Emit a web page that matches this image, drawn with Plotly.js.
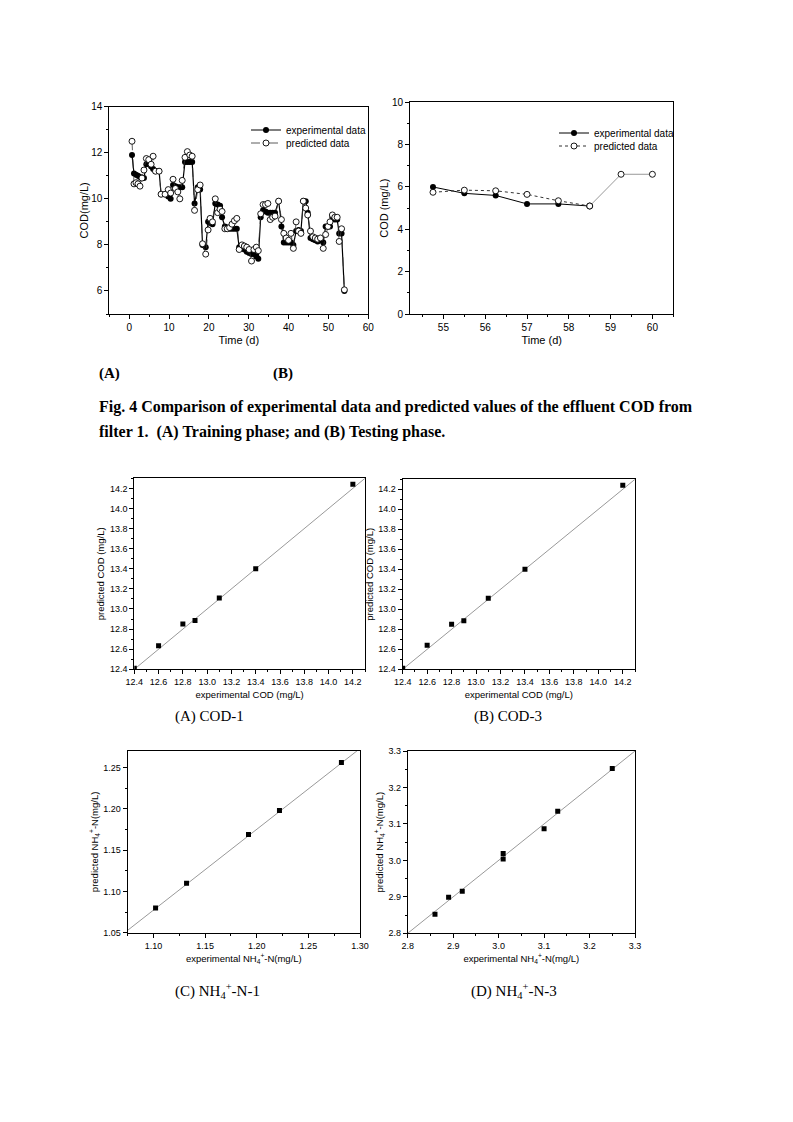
<!DOCTYPE html>
<html>
<head>
<meta charset="utf-8">
<script src="https://cdn.plot.ly/plotly-3.0.1.min.js"></script>
<style>
html,body{margin:0;padding:0;background:#fff;}
#chart{width:793px;height:1122px;}
</style>
</head>
<body>
<div id="chart"></div>
<script>
// ---------- DATA ----------
// (A) Training phase
const trainDays = [0.7,1.2,1.7,2.2,2.7,3.2,3.7,4.3,4.9,5.5,
  6.0,6.6,7.5,8.0,9.0,9.8,10.4,11.0,11.6,12.2,
  12.7,13.3,14.0,14.6,15.2,15.8,16.4,17.2,17.8,18.4,
  19.2,19.8,20.3,20.9,21.6,22.2,22.8,23.3,24.0,24.6,
  25.2,25.8,26.4,27.0,27.6,28.3,28.9,29.5,30.1,30.7,
  31.3,31.9,32.4,33.0,33.6,34.2,34.8,35.4,36.0,36.6,
  37.5,38.2,38.8,39.4,40.0,40.6,41.2,41.9,42.5,43.1,
  43.7,44.3,44.8,45.5,46.1,46.7,47.3,48.0,48.7,49.3,
  49.9,50.4,51.0,51.6,52.2,52.7,53.3,54.0];
const trainExp = [11.9,11.1,11.05,11.0,10.95,10.9,10.9,11.5,11.5,11.4,
  11.3,11.2,11.2,10.2,10.2,10.1,10.0,10.6,10.55,10.5,
  10.5,10.5,11.6,11.6,11.6,11.6,9.8,10.5,10.4,8.0,
  7.9,9.0,8.95,8.9,9.8,9.75,9.7,9.2,8.8,8.75,
  8.7,8.7,8.7,8.7,7.9,7.85,7.8,7.7,7.65,7.6,
  7.6,7.5,7.4,9.2,9.5,9.45,9.4,9.4,9.4,9.4,
  9.9,8.8,8.1,8.1,8.1,8.1,8.0,8.6,8.65,8.6,
  9.9,9.9,9.4,8.3,8.25,8.2,8.15,8.2,8.1,8.8,
  8.8,8.8,9.2,9.1,9.1,8.5,8.5,6.0];
const trainPred = [12.5,10.65,10.7,10.65,10.55,10.9,11.25,11.75,11.7,11.5,
  11.85,11.2,11.2,10.2,10.2,10.4,10.25,10.85,10.45,10.3,
  10.0,10.8,11.8,12.05,11.9,11.85,9.5,10.4,10.6,8.05,
  7.6,8.65,9.15,9.0,10.0,9.4,9.55,9.45,8.7,8.7,
  8.75,8.9,9.05,9.15,7.8,8.0,7.95,7.9,7.8,7.3,
  7.8,7.9,7.75,9.35,9.75,9.75,9.8,9.1,9.2,9.25,
  9.9,9.1,8.5,8.3,8.2,8.5,7.85,9.0,8.6,8.5,
  9.9,9.6,9.3,8.6,8.35,8.3,8.25,8.3,7.85,8.45,
  8.8,9.0,9.3,9.2,9.2,8.15,8.7,6.05];

// (B) Testing phase
const testDaysExp = [54.75,55.5,56.25,57,57.75,58.5];
const testExp = [6.0,5.7,5.6,5.2,5.2,5.1];
const testDaysPred = [54.75,55.5,56.25,57,57.75,58.5,59.25,60];
const testPred = [5.75,5.85,5.82,5.65,5.35,5.1,6.6,6.6];

// COD-1 and COD-3 scatter
const cod1Exp = [12.4,12.6,12.8,12.9,13.1,13.4,14.2];
const cod1Pred = [12.41,12.635,12.85,12.885,13.11,13.4,14.24];
const cod3Exp = [12.4,12.6,12.8,12.9,13.1,13.4,14.2];
const cod3Pred = [12.41,12.64,12.85,12.885,13.11,13.4,14.24];
const codLine = [12.4,14.3];

// NH4+-N-1 and NH4+-N-3 scatter
const nh1Exp = [1.102,1.132,1.192,1.222,1.282];
const nh1Pred = [1.080,1.110,1.169,1.198,1.256];
const nh1LineX = [1.072,1.30];
const nh1LineY = [1.05,1.273];
const nh3Exp = [2.86,2.89,2.92,3.01,3.01,3.10,3.13,3.25];
const nh3Pred = [2.852,2.899,2.915,3.019,3.004,3.087,3.135,3.252];
const nh3Line = [2.8,3.3];

// ---------- LAYOUT HELPERS ----------
const W = 793, H = 1122;
const SANS = 'Liberation Sans, Arial, sans-serif';
const SERIF = 'Liberation Serif, Times New Roman, serif';
function xd(a,b){return [a/W,b/W];}
function yd(top,bottom){return [1-bottom/H,1-top/H];}

function axis(opts){
  const a = {
    showline:true, linecolor:'#000', linewidth:1, mirror:true,
    ticks:'outside', ticklen:4, tickwidth:1, tickcolor:'#000',
    showgrid:false, zeroline:false, automargin:false,
    tickfont:{family:SANS,size:opts.tfs||10,color:'#000'},
    minor:{ticks:'outside', ticklen:2, tickcolor:'#000', dtick:opts.minor, showgrid:false},
    fixedrange:true
  };
  return Object.assign(a, opts.extra);
}

const expMarker = {symbol:'circle',size:6,color:'#000'};
const predMarker = {symbol:'circle',size:6,color:'#fff',line:{color:'#000',width:0.9}};

const traces = [];
// (A)
traces.push({x:trainDays,y:trainExp,type:'scatter',mode:'lines+markers',name:'experimental data',
  xaxis:'x',yaxis:'y',legend:'legend',
  line:{color:'#000',width:1.2},marker:expMarker});
traces.push({x:trainDays,y:trainPred,type:'scatter',mode:'lines+markers',name:'predicted data',
  xaxis:'x',yaxis:'y',legend:'legend3',
  line:{color:'#333',width:0.8,dash:'dash'},marker:predMarker});
// (B)
const nSplit = testDaysExp.length;
traces.push({x:testDaysExp,y:testExp,type:'scatter',mode:'lines+markers',name:'experimental data',
  xaxis:'x2',yaxis:'y2',legend:'legend2',
  line:{color:'#000',width:1},marker:expMarker});
traces.push({x:testDaysPred.slice(0,nSplit),y:testPred.slice(0,nSplit),type:'scatter',mode:'lines+markers',name:'predicted data',
  xaxis:'x2',yaxis:'y2',legend:'legend4',
  line:{color:'#333',width:1,dash:'dot'},marker:predMarker});
traces.push({x:testDaysPred.slice(nSplit-1),y:testPred.slice(nSplit-1),type:'scatter',mode:'lines+markers',showlegend:false,
  xaxis:'x2',yaxis:'y2',
  line:{color:'#999',width:1},marker:predMarker});
// COD-1
traces.push({x:codLine,y:codLine,type:'scatter',mode:'lines',showlegend:false,xaxis:'x3',yaxis:'y3',line:{color:'#999',width:1}});
traces.push({x:cod1Exp,y:cod1Pred,type:'scatter',mode:'markers',showlegend:false,xaxis:'x3',yaxis:'y3',marker:{symbol:'square',size:5,color:'#000'}});
// COD-3
traces.push({x:codLine,y:codLine,type:'scatter',mode:'lines',showlegend:false,xaxis:'x4',yaxis:'y4',line:{color:'#999',width:1}});
traces.push({x:cod3Exp,y:cod3Pred,type:'scatter',mode:'markers',showlegend:false,xaxis:'x4',yaxis:'y4',marker:{symbol:'square',size:5,color:'#000'}});
// NH-1
traces.push({x:nh1LineX,y:nh1LineY,type:'scatter',mode:'lines',showlegend:false,xaxis:'x5',yaxis:'y5',line:{color:'#999',width:1}});
traces.push({x:nh1Exp,y:nh1Pred,type:'scatter',mode:'markers',showlegend:false,xaxis:'x5',yaxis:'y5',marker:{symbol:'square',size:5,color:'#000'}});
// NH-3
traces.push({x:nh3Line,y:nh3Line,type:'scatter',mode:'lines',showlegend:false,xaxis:'x6',yaxis:'y6',line:{color:'#999',width:1}});
traces.push({x:nh3Exp,y:nh3Pred,type:'scatter',mode:'markers',showlegend:false,xaxis:'x6',yaxis:'y6',marker:{symbol:'square',size:5,color:'#000'}});

const tf = (t,s,st)=>({text:t,font:{family:SANS,size:s,color:'#000'},standoff:st});
function leg(px,py){
  return {x:px/W,y:1-py/H,xanchor:'left',yanchor:'middle',bgcolor:'rgba(0,0,0,0)',borderwidth:0,
    font:{family:SANS,size:10,color:'#000'},itemwidth:30,tracegroupgap:0};
}

const layout = {
  width:W,height:H,margin:{l:0,r:0,t:0,b:0},
  paper_bgcolor:'#fff',plot_bgcolor:'#fff',
  font:{family:SANS,color:'#000'},
  // (A)
  xaxis: axis({minor:5,extra:{domain:xd(109.3,368.3),anchor:'y',range:[-5,60.01],dtick:10,tick0:0,title:tf('Time (d)',11,4)}}),
  yaxis: axis({minor:1,extra:{domain:yd(106.7,314),anchor:'x',range:[5,14],dtick:2,tick0:0,title:tf('COD(mg/L)',11,0)}}),
  // (B)
  xaxis2: axis({minor:0.5,extra:{domain:xd(410,673.3),anchor:'y2',range:[54.2,60.5],dtick:1,tick0:0,title:tf('Time (d)',11,4)}}),
  yaxis2: axis({minor:1,extra:{domain:yd(102.3,314),anchor:'x2',range:[0,10],dtick:2,tick0:0,title:tf('COD (mg/L)',11,1)}}),
  // COD-1
  xaxis3: axis({minor:0.1,tfs:9,extra:{domain:xd(134.3,365),anchor:'y3',range:[12.4,14.3],dtick:0.2,tick0:12.4,tickformat:'.1f',title:tf('experimental COD (mg/L)',9.5,5)}}),
  yaxis3: axis({minor:0.1,tfs:9,extra:{domain:yd(478.3,669.3),anchor:'x3',range:[12.4,14.3],dtick:0.2,tick0:12.4,tickformat:'.1f',title:tf('predicted COD (mg/L)',9.5,3)}}),
  // COD-3
  xaxis4: axis({minor:0.1,tfs:9,extra:{domain:xd(402.7,635),anchor:'y4',range:[12.4,14.3],dtick:0.2,tick0:12.4,tickformat:'.1f',title:tf('experimental COD (mg/L)',9.5,5)}}),
  yaxis4: axis({minor:0.1,tfs:9,extra:{domain:yd(479.3,669.3),anchor:'x4',range:[12.4,14.3],dtick:0.2,tick0:12.4,tickformat:'.1f',title:tf('predicted COD (mg/L)',9.5,3)}}),
  // NH-1
  xaxis5: axis({minor:0.025,tfs:9,extra:{domain:xd(127.7,360),anchor:'y5',range:[1.075,1.30],dtick:0.05,tick0:1.0,tickformat:'.2f',title:tf('experimental NH<sub>4</sub><sup>+</sup>-N(mg/L)',9.5,5)}}),
  yaxis5: axis({minor:0.025,tfs:9,extra:{domain:yd(751,932.7),anchor:'x5',range:[1.05,1.27],dtick:0.05,tick0:1.0,tickformat:'.2f',title:tf('predicted NH<sub>4</sub><sup>+</sup>-N(mg/L)',9.5,3)}}),
  // NH-3
  xaxis6: axis({minor:0.05,tfs:9,extra:{domain:xd(407.7,635),anchor:'y6',range:[2.8,3.3],dtick:0.1,tick0:2.8,tickformat:'.1f',title:tf('experimental NH<sub>4</sub><sup>+</sup>-N(mg/L)',9.5,5)}}),
  yaxis6: axis({minor:0.05,tfs:9,extra:{domain:yd(751,933.3),anchor:'x6',range:[2.8,3.3],dtick:0.1,tick0:2.8,tickformat:'.1f',title:tf('predicted NH<sub>4</sub><sup>+</sup>-N(mg/L)',9.5,3)}}),
  showlegend:true,
  legend: leg(246,130),
  legend3: leg(246,143),
  legend2: leg(554,133),
  legend4: leg(554,146),
  annotations:[
    {text:'<b>(A)</b>',x:97/W,y:1-373/H,xref:'paper',yref:'paper',xanchor:'left',yanchor:'middle',showarrow:false,font:{family:SERIF,size:15,color:'#000'}},
    {text:'<b>(B)</b>',x:271/W,y:1-373/H,xref:'paper',yref:'paper',xanchor:'left',yanchor:'middle',showarrow:false,font:{family:SERIF,size:15,color:'#000'}},
    {text:'<b>Fig. 4 Comparison of experimental data and predicted values of the effluent COD from</b>',x:97/W,y:1-407/H,xref:'paper',yref:'paper',xanchor:'left',yanchor:'middle',showarrow:false,font:{family:SERIF,size:16,color:'#000'}},
    {text:'<b>filter 1.\u00a0\u00a0(A) Training phase; and (B) Testing phase.</b>',x:97/W,y:1-432/H,xref:'paper',yref:'paper',xanchor:'left',yanchor:'middle',showarrow:false,font:{family:SERIF,size:16,color:'#000'}},
    {text:'(A) COD-1',x:210/W,y:1-716/H,xref:'paper',yref:'paper',xanchor:'center',yanchor:'middle',showarrow:false,font:{family:SERIF,size:15,color:'#000'}},
    {text:'(B) COD-3',x:508/W,y:1-716/H,xref:'paper',yref:'paper',xanchor:'center',yanchor:'middle',showarrow:false,font:{family:SERIF,size:15,color:'#000'}},
    {text:'(C) NH<sub>4</sub><sup>+</sup>-N-1',x:217/W,y:1-991/H,xref:'paper',yref:'paper',xanchor:'center',yanchor:'middle',showarrow:false,font:{family:SERIF,size:15,color:'#000'}},
    {text:'(D) NH<sub>4</sub><sup>+</sup>-N-3',x:514/W,y:1-991/H,xref:'paper',yref:'paper',xanchor:'center',yanchor:'middle',showarrow:false,font:{family:SERIF,size:15,color:'#000'}}
  ]
};

Plotly.newPlot('chart',traces,layout,{staticPlot:true,displayModeBar:false});
</script>
</body>
</html>
